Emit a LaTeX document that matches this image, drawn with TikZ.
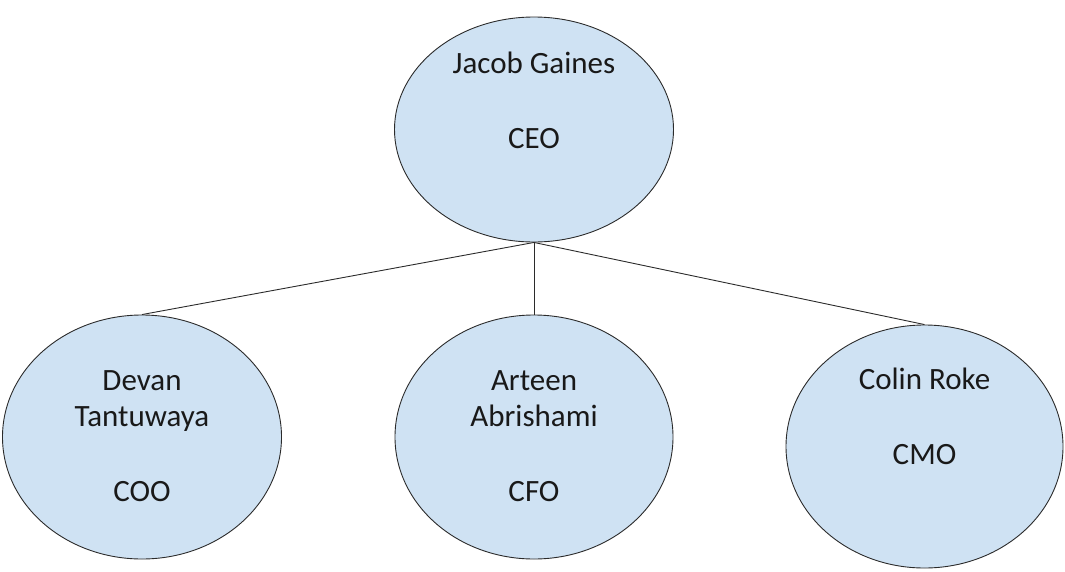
\documentclass[tikz,border=0pt]{standalone}
\usepackage{fontspec}
\setmainfont{Carlito}
\usetikzlibrary{shapes.geometric}
\definecolor{bubble}{HTML}{CFE2F3}
\definecolor{edge}{HTML}{2B2B2B}
\begin{document}
\begin{tikzpicture}[x=1pt,y=-1pt,
  person/.style={ellipse, draw=edge, fill=bubble, line width=0.9pt, inner sep=0pt},
  caption/.style={anchor=base, inner sep=0pt, font=\fontsize{31}{37}\selectfont, text=black!90},
  link/.style={draw=edge, line width=0.9pt}]
  \useasboundingbox (0,0) rectangle (1065,571);

  % people
  \node[person, minimum width=279pt, minimum height=225pt] (ceo) at (534,129.5) {};
  \node[person, minimum width=279pt, minimum height=244pt] (coo) at (142,437) {};
  \node[person, minimum width=278pt, minimum height=244pt] (cfo) at (534,437) {};
  \node[person, minimum width=277pt, minimum height=243pt] (cmo) at (924.5,446.5) {};

  % reporting lines
  \draw[link] (ceo.south) -- (coo.north);
  \draw[link] (ceo.south) -- (cfo.north);
  \draw[link] (ceo.south) -- (cmo.north);

  % names and titles
  \node[caption] (ceoname) at (534,73.3) {Jacob Gaines};
  \node[caption] (ceotitle) at (534,148.3) {CEO};

  \node[caption] (cooname1) at (142,390) {Devan};
  \node[caption] (cooname2) at (142,426.7) {Tantuwaya};
  \node[caption] (cootitle) at (142,501.7) {COO};

  \node[caption] (cfoname1) at (534,390) {Arteen};
  \node[caption] (cfoname2) at (534,426.7) {Abrishami};
  \node[caption] (cfotitle) at (534,501.7) {CFO};

  \node[caption] (cmoname) at (924.5,389.3) {Colin Roke};
  \node[caption] (cmotitle) at (924.5,464) {CMO};
\end{tikzpicture}
\end{document}
